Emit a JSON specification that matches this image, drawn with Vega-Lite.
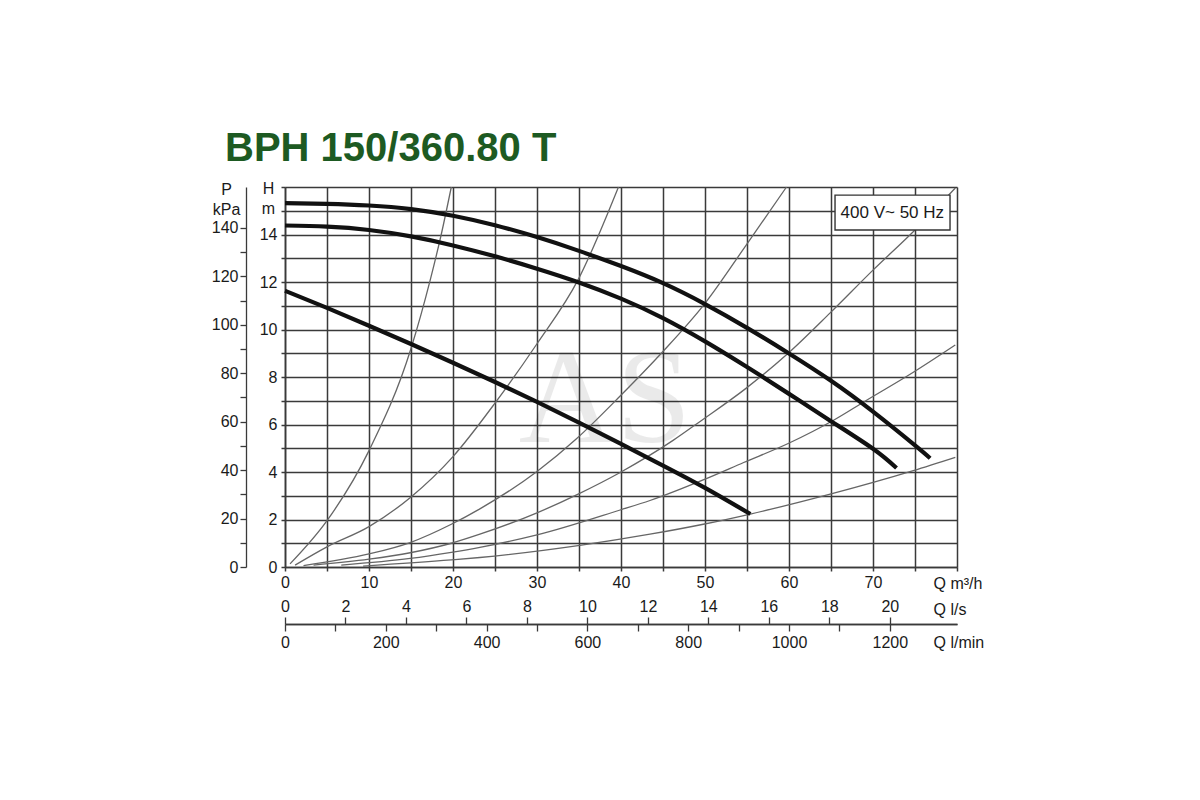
{
  "$schema": "https://vega.github.io/schema/vega-lite/v6.json",
  "width": 672,
  "height": 380,
  "autosize": {"type": "none"},
  "padding": {"left": 285, "top": 187, "right": 243, "bottom": 233},
  "background": "white",
  "title": {
    "text": "BPH 150/360.80 T",
    "anchor": "start",
    "frame": "group",
    "dx": -60,
    "offset": -22,
    "baseline": "alphabetic",
    "font": "Liberation Sans",
    "fontSize": 40,
    "fontWeight": "bold",
    "color": "#1d5a22"
  },
  "config": {
    "view": {"stroke": null},
    "axis": {
      "labelFont": "Liberation Sans",
      "labelFontSize": 16,
      "labelColor": "#1a1a1a",
      "titleFont": "Liberation Sans",
      "titleFontSize": 16,
      "titleFontWeight": "normal",
      "titleColor": "#1a1a1a",
      "domainColor": "#3a3a3a",
      "tickColor": "#3a3a3a",
      "gridColor": "#3a3a3a",
      "gridOpacity": 1,
      "labelFlush": false,
      "labelOverlap": false
    }
  },
  "datasets": {
    "system": [
      {"curve": "A", "Q": 0.6, "H": 0.13}, {"curve": "A", "Q": 5, "H": 1.95}, {"curve": "A", "Q": 10, "H": 4.9}, {"curve": "A", "Q": 15, "H": 9.2}, {"curve": "A", "Q": 17.3, "H": 12.1}, {"curve": "A", "Q": 18.6, "H": 14.0}, {"curve": "A", "Q": 19.8, "H": 16.0},
      {"curve": "B", "Q": 1.2, "H": 0.08}, {"curve": "B", "Q": 5, "H": 0.85}, {"curve": "B", "Q": 10, "H": 1.7}, {"curve": "B", "Q": 15, "H": 2.95}, {"curve": "B", "Q": 20, "H": 4.65}, {"curve": "B", "Q": 25, "H": 6.9}, {"curve": "B", "Q": 30, "H": 9.4}, {"curve": "B", "Q": 34.9, "H": 12.1}, {"curve": "B", "Q": 39.7, "H": 16.0},
      {"curve": "C", "Q": 2.2, "H": 0.06}, {"curve": "C", "Q": 10, "H": 0.55}, {"curve": "C", "Q": 14.9, "H": 1.03}, {"curve": "C", "Q": 19.8, "H": 1.8}, {"curve": "C", "Q": 23.2, "H": 2.45}, {"curve": "C", "Q": 30, "H": 4.02}, {"curve": "C", "Q": 34.7, "H": 5.4}, {"curve": "C", "Q": 39.9, "H": 7.2}, {"curve": "C", "Q": 44.8, "H": 9.0}, {"curve": "C", "Q": 50, "H": 11.1}, {"curve": "C", "Q": 54.8, "H": 13.5}, {"curve": "C", "Q": 59.7, "H": 16.0},
      {"curve": "D", "Q": 3.4, "H": 0.08}, {"curve": "D", "Q": 10, "H": 0.33}, {"curve": "D", "Q": 14.9, "H": 0.6}, {"curve": "D", "Q": 19.8, "H": 1.0}, {"curve": "D", "Q": 23.2, "H": 1.38}, {"curve": "D", "Q": 30, "H": 2.28}, {"curve": "D", "Q": 34.9, "H": 3.07}, {"curve": "D", "Q": 39.9, "H": 3.98}, {"curve": "D", "Q": 46.2, "H": 5.33}, {"curve": "D", "Q": 49.5, "H": 6.15}, {"curve": "D", "Q": 54.8, "H": 7.5}, {"curve": "D", "Q": 59.9, "H": 9.0}, {"curve": "D", "Q": 64.9, "H": 10.7}, {"curve": "D", "Q": 70, "H": 12.5}, {"curve": "D", "Q": 75, "H": 14.19}, {"curve": "D", "Q": 79.8, "H": 15.96},
      {"curve": "E", "Q": 6.7, "H": 0.08}, {"curve": "E", "Q": 14.9, "H": 0.36}, {"curve": "E", "Q": 19.8, "H": 0.62}, {"curve": "E", "Q": 23.2, "H": 0.83}, {"curve": "E", "Q": 30, "H": 1.35}, {"curve": "E", "Q": 39.9, "H": 2.4}, {"curve": "E", "Q": 43.45, "H": 2.8}, {"curve": "E", "Q": 50, "H": 3.7}, {"curve": "E", "Q": 54.6, "H": 4.4}, {"curve": "E", "Q": 59.9, "H": 5.2}, {"curve": "E", "Q": 65.3, "H": 6.18}, {"curve": "E", "Q": 68.9, "H": 6.95}, {"curve": "E", "Q": 74.8, "H": 8.2}, {"curve": "E", "Q": 79.8, "H": 9.35},
      {"curve": "F", "Q": 9.3, "H": 0.04}, {"curve": "F", "Q": 19.8, "H": 0.3}, {"curve": "F", "Q": 23.2, "H": 0.4}, {"curve": "F", "Q": 35.1, "H": 0.91}, {"curve": "F", "Q": 43.45, "H": 1.38}, {"curve": "F", "Q": 49.8, "H": 1.8}, {"curve": "F", "Q": 55.4, "H": 2.23}, {"curve": "F", "Q": 64.9, "H": 3.07}, {"curve": "F", "Q": 74.8, "H": 4.06}, {"curve": "F", "Q": 79.8, "H": 4.62}
    ],
    "pump": [
      {"curve": "P1", "Q": 0, "H": 15.32}, {"curve": "P1", "Q": 5, "H": 15.29}, {"curve": "P1", "Q": 10, "H": 15.22}, {"curve": "P1", "Q": 15, "H": 15.07}, {"curve": "P1", "Q": 20, "H": 14.79}, {"curve": "P1", "Q": 25, "H": 14.39}, {"curve": "P1", "Q": 30, "H": 13.89}, {"curve": "P1", "Q": 35, "H": 13.31}, {"curve": "P1", "Q": 40, "H": 12.67}, {"curve": "P1", "Q": 45, "H": 11.95}, {"curve": "P1", "Q": 50, "H": 11.07}, {"curve": "P1", "Q": 55, "H": 10.07}, {"curve": "P1", "Q": 60, "H": 8.99}, {"curve": "P1", "Q": 65, "H": 7.84}, {"curve": "P1", "Q": 70, "H": 6.54}, {"curve": "P1", "Q": 75, "H": 5.12}, {"curve": "P1", "Q": 76.8, "H": 4.58},
      {"curve": "P2", "Q": 0, "H": 14.38}, {"curve": "P2", "Q": 5, "H": 14.33}, {"curve": "P2", "Q": 10, "H": 14.19}, {"curve": "P2", "Q": 15, "H": 13.92}, {"curve": "P2", "Q": 20, "H": 13.54}, {"curve": "P2", "Q": 25, "H": 13.08}, {"curve": "P2", "Q": 30, "H": 12.56}, {"curve": "P2", "Q": 35, "H": 11.98}, {"curve": "P2", "Q": 40, "H": 11.3}, {"curve": "P2", "Q": 45, "H": 10.48}, {"curve": "P2", "Q": 50, "H": 9.5}, {"curve": "P2", "Q": 55, "H": 8.42}, {"curve": "P2", "Q": 60, "H": 7.29}, {"curve": "P2", "Q": 65, "H": 6.14}, {"curve": "P2", "Q": 70, "H": 4.98}, {"curve": "P2", "Q": 72.8, "H": 4.17},
      {"curve": "P3", "Q": 0, "H": 11.63}, {"curve": "P3", "Q": 5, "H": 10.91}, {"curve": "P3", "Q": 10, "H": 10.16}, {"curve": "P3", "Q": 15, "H": 9.39}, {"curve": "P3", "Q": 20, "H": 8.6}, {"curve": "P3", "Q": 25, "H": 7.79}, {"curve": "P3", "Q": 30, "H": 6.95}, {"curve": "P3", "Q": 35, "H": 6.08}, {"curve": "P3", "Q": 40, "H": 5.18}, {"curve": "P3", "Q": 45, "H": 4.27}, {"curve": "P3", "Q": 50, "H": 3.33}, {"curve": "P3", "Q": 55.4, "H": 2.23}
    ]
  },
  "layer": [
    {
      "encoding": {
        "x": {
          "field": "Q", "type": "quantitative",
          "scale": {"domain": [0, 80], "nice": false, "zero": false},
          "axis": {
            "orient": "bottom",
            "values": [0, 5, 10, 15, 20, 25, 30, 35, 40, 45, 50, 55, 60, 65, 70, 75, 80],
            "labelExpr": "datum.value % 10 == 0 && datum.value < 80 ? datum.label : ''",
            "grid": true, "gridWidth": 1.5,
            "tickSize": 4, "tickWidth": 1.5, "domainWidth": 1.6,
            "labelPadding": 3,
            "title": "Q m³/h", "titleX": 648, "titleY": 21, "titleAlign": "left", "titleBaseline": "alphabetic"
          }
        },
        "y": {
          "field": "H", "type": "quantitative",
          "scale": {"domain": [0, 16], "nice": false, "zero": false},
          "axis": {
            "orient": "left",
            "values": [0, 1, 2, 3, 4, 5, 6, 7, 8, 9, 10, 11, 12, 13, 14, 15, 16],
            "labelExpr": "datum.value % 2 == 0 && datum.value < 16 ? datum.label : ''",
            "grid": true, "gridWidth": 1.5,
            "tickSize": 4, "tickWidth": 1.5, "domainWidth": 1.6,
            "labelPadding": 4,
            "title": ["H", "m"], "titleAngle": 0, "titleX": -17, "titleY": 6, "titleAlign": "center", "titleBaseline": "alphabetic", "titleLineHeight": 20
          }
        }
      },
      "layer": [
        {
          "data": {"values": [{"Q": 38.1, "H": 7.0, "t": "AS"}]},
          "mark": {"type": "text", "font": "Liberation Serif", "fontSize": 135, "baseline": "middle", "align": "center", "color": "#000", "opacity": 0.08},
          "encoding": {"text": {"field": "t"}}
        },
        {
          "data": {"name": "system"},
          "mark": {"type": "line", "color": "#666", "strokeWidth": 1.3, "interpolate": "monotone"},
          "encoding": {"detail": {"field": "curve"}}
        },
        {
          "data": {"name": "pump"},
          "mark": {"type": "line", "color": "#111", "strokeWidth": 4.2, "interpolate": "natural"},
          "encoding": {"detail": {"field": "curve"}}
        },
        {
          "data": {"values": [{"Q": 65.48, "Q2": 79.17, "H": 15.66, "H2": 14.19}]},
          "mark": {"type": "rect", "fill": "white", "stroke": "#333", "strokeWidth": 1.4},
          "encoding": {"x2": {"field": "Q2"}, "y2": {"field": "H2"}}
        },
        {
          "data": {"values": [{"Q": 72.3, "H": 14.92, "t": "400 V~ 50 Hz"}]},
          "mark": {"type": "text", "font": "Liberation Sans", "fontSize": 17, "baseline": "middle", "align": "center", "color": "#1a1a1a"},
          "encoding": {"text": {"field": "t"}}
        }
      ]
    },
    {
      "data": {"values": [{"P": 0}, {"P": 156.9}]},
      "mark": {"type": "point", "opacity": 0},
      "encoding": {
        "y": {
          "field": "P", "type": "quantitative",
          "scale": {"domain": [0, 156.9], "nice": false, "zero": false},
          "axis": {
            "orient": "left", "offset": 39,
            "values": [0, 10, 20, 30, 40, 50, 60, 70, 80, 90, 100, 110, 120, 130, 140],
            "labelExpr": "datum.value % 20 == 0 ? datum.label : ''",
            "grid": false, "tickSize": 6, "tickWidth": 1.3, "domainWidth": 1.3, "labelPadding": 2,
            "title": ["P", "kPa"], "titleAngle": 0, "titleX": -20, "titleY": 7, "titleAlign": "center", "titleBaseline": "alphabetic", "titleLineHeight": 20
          }
        }
      }
    },
    {
      "data": {"values": [{"ls": 0}, {"ls": 22.2222}]},
      "mark": {"type": "point", "opacity": 0},
      "encoding": {
        "x": {
          "field": "ls", "type": "quantitative",
          "scale": {"domain": [0, 22.2222], "nice": false, "zero": false},
          "axis": {
            "orient": "top", "offset": -437,
            "values": [0, 2, 4, 6, 8, 10, 12, 14, 16, 18, 20],
            "grid": false, "tickSize": 7, "tickWidth": 1.3, "domainWidth": 1.3, "labelPadding": 3,
            "title": "Q l/s", "titleX": 648, "titleY": -10, "titleAlign": "left", "titleBaseline": "alphabetic"
          }
        }
      }
    },
    {
      "data": {"values": [{"lm": 0}, {"lm": 1333.33}]},
      "mark": {"type": "point", "opacity": 0},
      "encoding": {
        "x": {
          "field": "lm", "type": "quantitative",
          "scale": {"domain": [0, 1333.33], "nice": false, "zero": false},
          "axis": {
            "orient": "bottom", "offset": 57,
            "values": [0, 100, 200, 300, 400, 500, 600, 700, 800, 900, 1000, 1100, 1200],
            "labelExpr": "datum.value % 200 == 0 ? datum.label : ''",
            "format": "d",
            "grid": false, "tickSize": 7, "tickWidth": 1.3, "domainWidth": 1.3, "labelPadding": 3,
            "title": "Q l/min", "titleX": 648, "titleY": 23, "titleAlign": "left", "titleBaseline": "alphabetic"
          }
        }
      }
    }
  ],
  "resolve": {"scale": {"x": "independent", "y": "independent"}}
}
